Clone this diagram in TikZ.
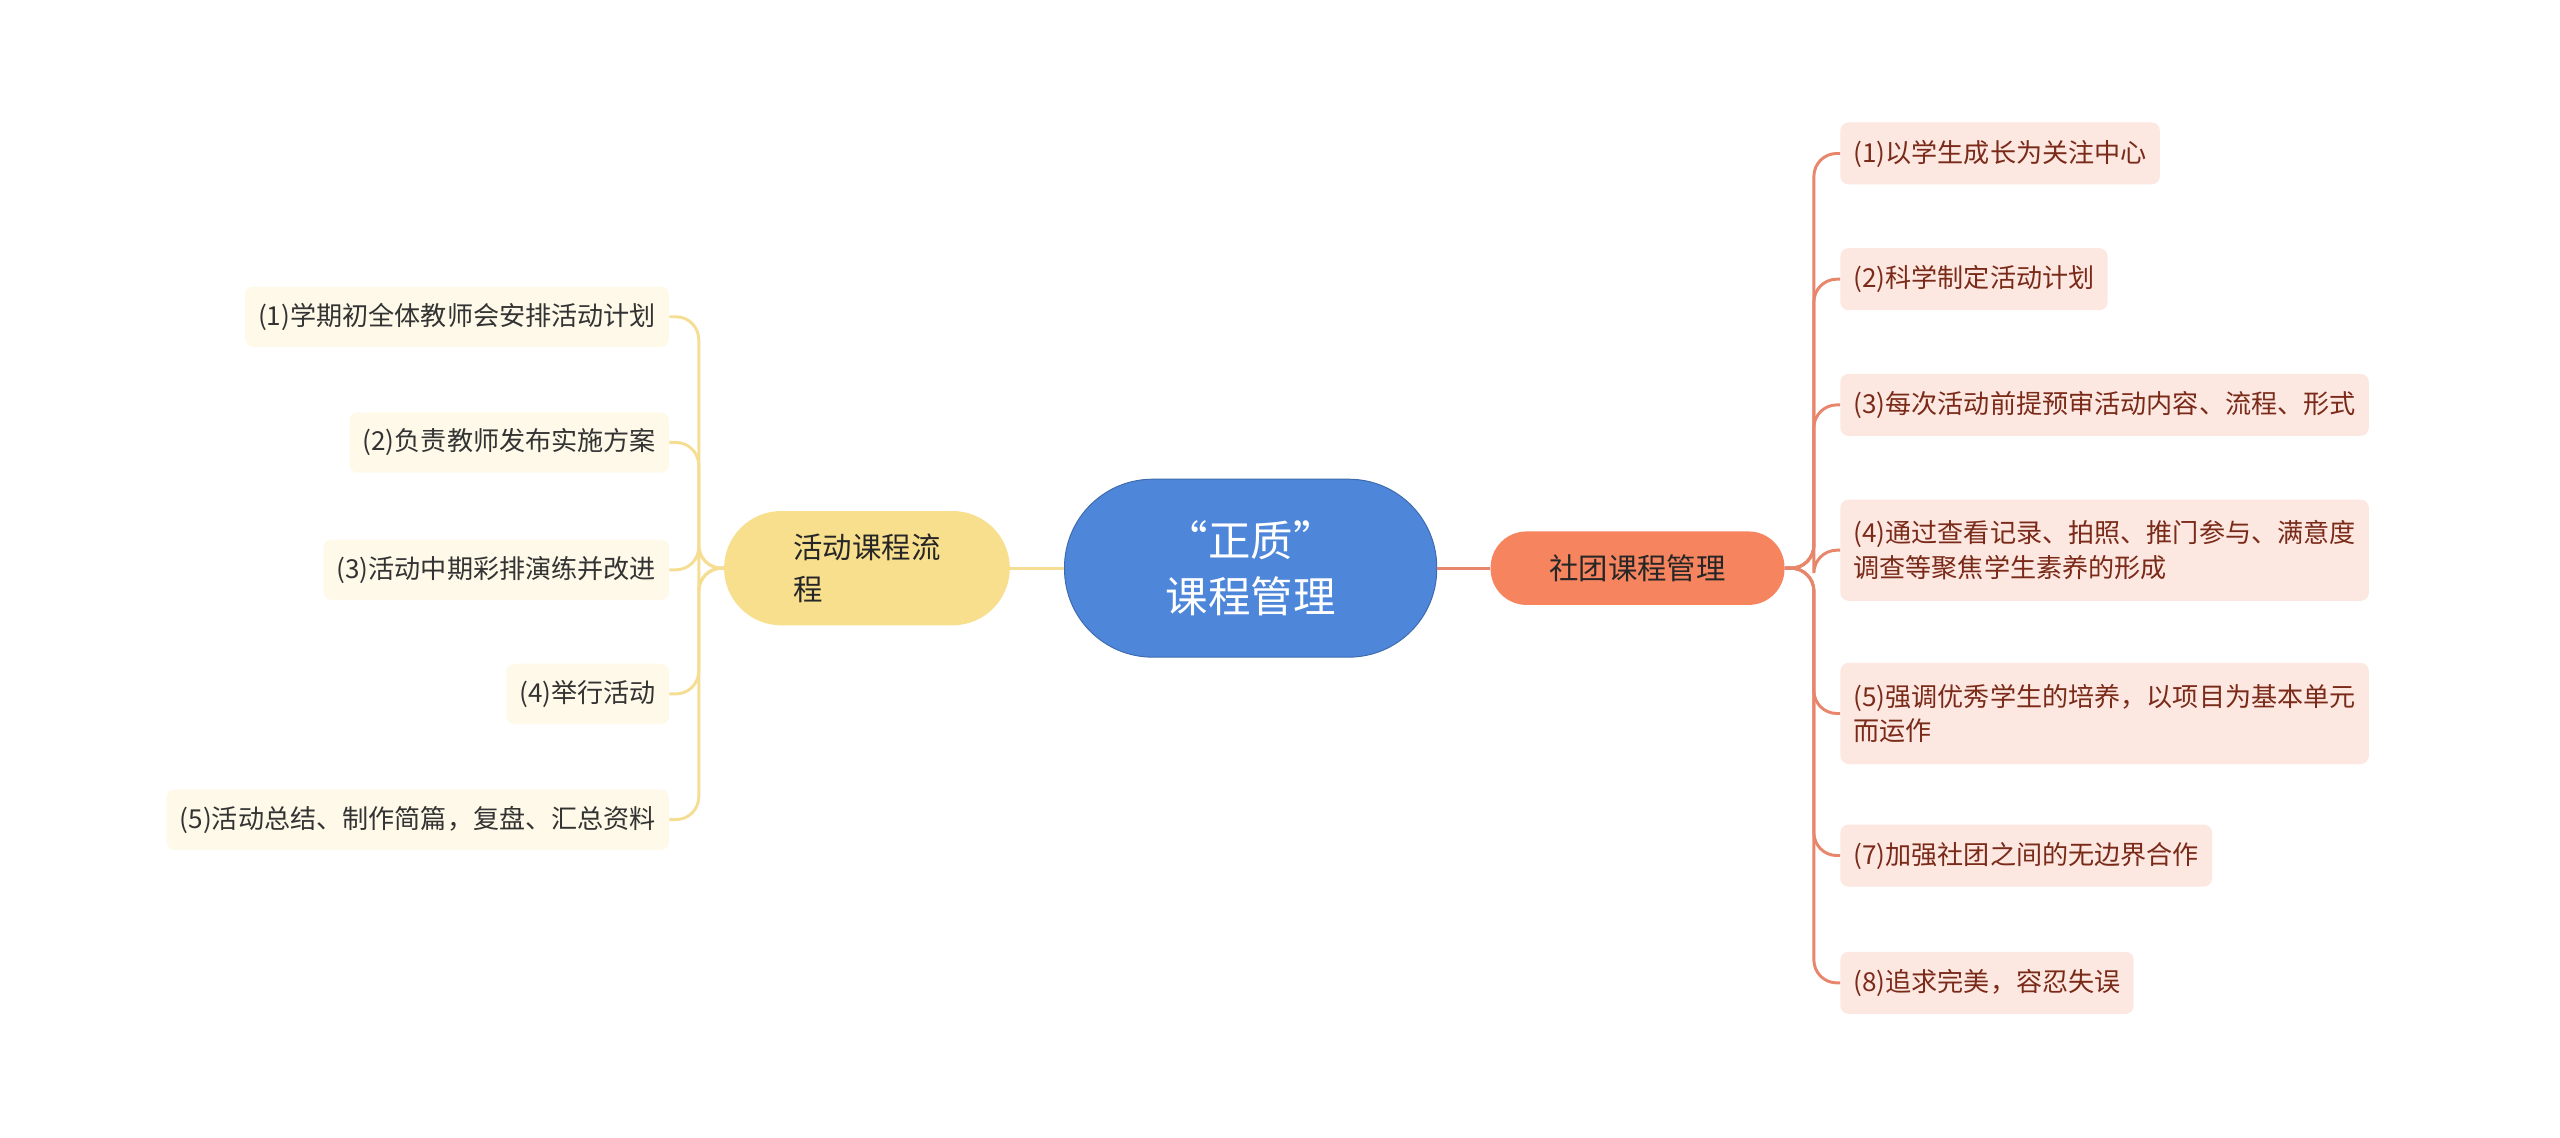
\documentclass[tikz,border=0pt]{standalone}
\usepackage{fontspec}
\setmainfont{Noto Sans CJK SC}
\begin{document}
\begin{tikzpicture}[x=1pt,y=-1pt,
 lleaf/.style={anchor=east,fill=lbg,rounded corners=5pt,inner xsep=8pt,minimum height=37pt,font=\fontsize{16}{21}\selectfont,text=black!80},
 rleaf/.style={anchor=west,fill=rbg,rounded corners=5pt,inner xsep=8pt,minimum height=38pt,font=\fontsize{16}{21}\selectfont,text=rtx,align=left},
 lline/.style={draw=lln,line width=1.8pt,rounded corners=14pt},
 rline/.style={draw=rln,line width=1.8pt,rounded corners=14pt}]
\definecolor{lbg}{HTML}{FEF9E8}\definecolor{rbg}{HTML}{FDE7E1}
\definecolor{lln}{HTML}{F5DE93}\definecolor{rln}{HTML}{E8866C}
\definecolor{rtx}{HTML}{7A2A18}\definecolor{cb}{HTML}{4E86DA}
\definecolor{ly}{HTML}{F7DF8E}\definecolor{ro}{HTML}{F6845F}
\useasboundingbox (0,0) rectangle (1568,697);
\node[fill=cb,draw=cb!80!black,line width=0.6pt,rounded corners=54pt,minimum width=228pt,minimum height=109pt,text=white,align=center,font=\fontsize{26}{34}\selectfont] (c) at (766,348) {“正质”\\课程管理};
\node[fill=ly,rounded corners=35pt,minimum width=175pt,minimum height=70pt,align=left,font=\fontsize{18}{26}\selectfont,text=black!85] (l) at (531,348) {活动课程流\\程\hspace*{4em}};
\node[fill=ro,rounded corners=22pt,minimum width=180pt,minimum height=45pt,font=\fontsize{18}{24}\selectfont,text=black!85] (r) at (1003,348) {社团课程管理};
\draw[lline] (c.west) -- (l.east);
\draw[rline] (c.east) -- (r.east -| r.west);
\node[lleaf] (l1) at (410,194) {(1)学期初全体教师会安排活动计划};
\node[lleaf] (l2) at (410,271) {(2)负责教师发布实施方案};
\node[lleaf] (l3) at (410,349) {(3)活动中期彩排演练并改进};
\node[lleaf] (l4) at (410,425) {(4)举行活动};
\node[lleaf] (l5) at (410,502) {(5)活动总结、制作简篇，复盘、汇总资料};
\foreach \n in {l1,l2,l3,l4,l5}
 \draw[lline] (l.west) -- (428,348) -- (428,0 |- \n.east) -- (\n.east);
\node[rleaf] (r1) at (1127,94) {(1)以学生成长为关注中心};
\node[rleaf] (r2) at (1127,171) {(2)科学制定活动计划};
\node[rleaf] (r3) at (1127,248) {(3)每次活动前提预审活动内容、流程、形式};
\node[rleaf,minimum height=62pt] (r4) at (1127,337) {(4)通过查看记录、拍照、推门参与、满意度\\调查等聚焦学生素养的形成};
\node[rleaf,minimum height=62pt] (r5) at (1127,437) {(5)强调优秀学生的培养，以项目为基本单元\\而运作\hspace*{15em}};
\node[rleaf] (r7) at (1127,524) {(7)加强社团之间的无边界合作};
\node[rleaf] (r8) at (1127,602) {(8)追求完美，容忍失误};
\foreach \n in {r1,r2,r3,r4,r5,r7,r8}
 \draw[rline] (r.east) -- (1111,348) -- (1111,0 |- \n.west) -- (\n.west);
\end{tikzpicture}
\end{document}
